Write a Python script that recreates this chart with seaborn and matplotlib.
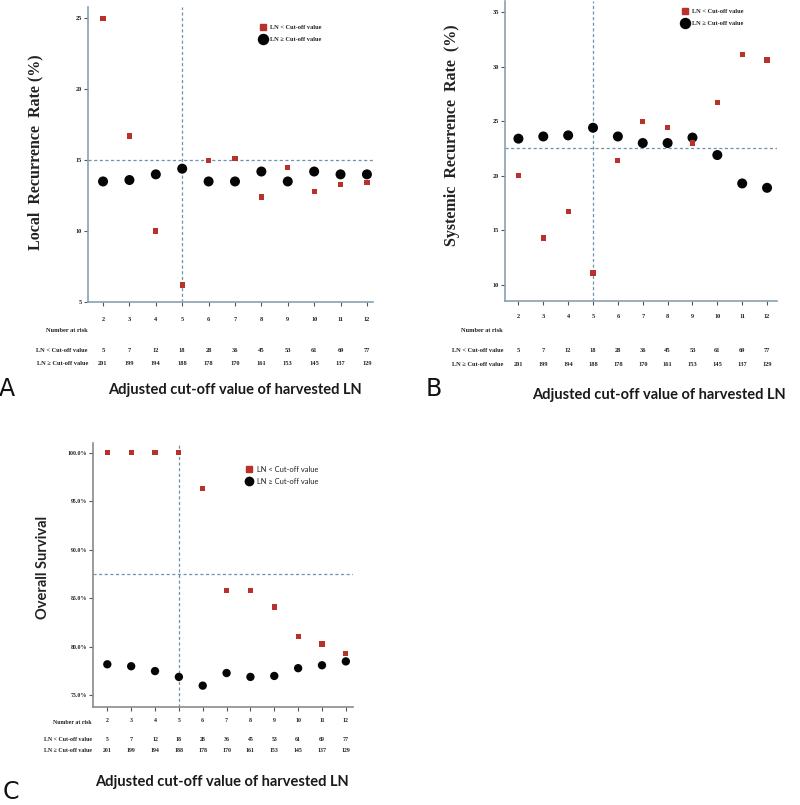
import numpy as np
import pandas as pd
import seaborn as sns
import matplotlib
matplotlib.use("Agg")
import matplotlib.pyplot as plt
from matplotlib import transforms
from matplotlib.lines import Line2D
from matplotlib.ticker import FuncFormatter

# ---------------- data ----------------
cutoffs = [2, 3, 4, 5, 6, 7, 8, 9, 10, 11, 12]
n_below = [5, 7, 12, 18, 28, 36, 45, 53, 61, 69, 77]
n_above = [201, 199, 194, 188, 178, 170, 161, 153, 145, 137, 129]

local_below = [25.0, 16.7, 10.0, 6.2, 15.0, 15.1, 12.4, 14.5, 12.8, 13.3, 13.4]
local_above = [13.5, 13.6, 14.0, 14.4, 13.5, 13.5, 14.2, 13.5, 14.2, 14.0, 14.0]
sys_below = [20.0, 14.3, 16.7, 11.1, 21.4, 25.0, 24.4, 23.0, 26.7, 31.1, 30.6]
sys_above = [23.4, 23.6, 23.7, 24.4, 23.6, 23.0, 23.0, 23.5, 21.9, 19.3, 18.9]
os_below = [100.0, 100.0, 100.0, 100.0, 96.3, 85.8, 85.8, 84.1, 81.1, 80.3, 79.3]
os_above = [78.2, 78.0, 77.5, 76.9, 76.0, 77.3, 76.9, 77.0, 77.8, 78.1, 78.5]

local_ref = 15.0
sys_ref = 22.5
os_ref = 87.5
best_cutoff = 5

label_below = "LN < Cut-off value"
label_above = "LN \u2265 Cut-off value"
xtitle = "Adjusted cut-off value of harvested LN"

# ---------------- style ----------------
sns.set_theme(style="white")
plt.rcParams["font.family"] = ["DejaVu Sans"]

W, H = 800, 805
fig = plt.figure(figsize=(W / 100, H / 100), dpi=100)

RED = "#b8312a"
BLACK = "#050505"
DASH = "#6f93aa"
SERIF = ["Liberation Serif", "DejaVu Serif"]
SANS = ["Lato", "DejaVu Sans"]


def fx(px):
    return px / W


def fy(py):
    return 1 - py / H


def rect(x0, y0, x1, y1):
    return [fx(x0), fy(y1), (x1 - x0) / W, (y1 - y0) / H]


def panel(box, below, above, ref, xlim, ylim, yticks, yfmt, spine_col,
          s_red, s_black, tickfont, tickfs, legend_anchor, legend_font, legend_fs,
          legend_weight, legend_spacing,
          ylabel, ylabel_xy, ylabel_font, ylabel_fs,
          rows_y, row_label_x, row_font, row_fs, title_xy, letter, letter_xy,
          tickpad):
    ax = fig.add_axes(rect(*box))
    df = pd.DataFrame({"cutoff": cutoffs + cutoffs,
                       "rate": below + above,
                       "group": [label_below] * len(cutoffs) + [label_above] * len(cutoffs)})
    sns.scatterplot(data=df[df.group == label_below], x="cutoff", y="rate", ax=ax,
                    marker="s", color=RED, s=s_red, edgecolor="none", zorder=4,
                    legend=False)
    sns.scatterplot(data=df[df.group == label_above], x="cutoff", y="rate", ax=ax,
                    marker="o", color=BLACK, s=s_black, edgecolor="none", zorder=3,
                    legend=False)
    ax.axhline(ref, color=DASH, lw=0.9, ls=(0, (2.5, 2)), zorder=1)
    ax.axvline(best_cutoff, color=DASH, lw=0.9, ls=(0, (2.5, 2)), zorder=1)
    ax.set_xlim(*xlim)
    ax.set_ylim(*ylim)
    ax.set_xticks(cutoffs)
    ax.set_yticks(yticks)
    ax.yaxis.set_major_formatter(FuncFormatter(yfmt))
    for side in ["top", "right"]:
        ax.spines[side].set_visible(False)
    for side in ["left", "bottom"]:
        ax.spines[side].set_color(spine_col)
        ax.spines[side].set_linewidth(1.2)
    ax.tick_params(axis="both", which="major", length=3, width=0.8, color="#555555",
                   direction="out", bottom=True, left=True)
    ax.tick_params(axis="x", pad=tickpad)
    ax.tick_params(axis="y", pad=1.5)
    for lab in ax.get_xticklabels() + ax.get_yticklabels():
        lab.set_fontfamily(tickfont)
        lab.set_fontsize(tickfs)
        lab.set_fontweight("bold")
        lab.set_color("#222222")
    ax.set_xlabel("")
    ax.set_ylabel("")

    handles = [Line2D([], [], ls="none", marker="s", color=RED, markersize=np.sqrt(s_red)),
               Line2D([], [], ls="none", marker="o", color=BLACK, markersize=np.sqrt(s_black))]
    leg = ax.legend(handles, [label_below, label_above], loc="upper left",
                    bbox_to_anchor=(fx(legend_anchor[0]), fy(legend_anchor[1])),
                    bbox_transform=fig.transFigure, frameon=False,
                    prop={"family": legend_font, "size": legend_fs, "weight": legend_weight},
                    handlelength=1.0, handletextpad=0.6, labelspacing=legend_spacing,
                    borderpad=0, borderaxespad=0)
    for t in leg.get_texts():
        t.set_color("#222222")

    fig.text(fx(ylabel_xy[0]), fy(ylabel_xy[1]), ylabel, rotation=90,
             ha="center", va="center", family=ylabel_font, fontsize=ylabel_fs,
             fontweight="bold", color="#222222")

    # number at risk table
    trans = transforms.blended_transform_factory(ax.transData, fig.transFigure)
    y_title, y_below, y_above = rows_y
    fig.text(fx(row_label_x), fy(y_title), "Number at risk", ha="right", va="center",
             family=row_font, fontsize=row_fs, fontweight="bold", color="#222222")
    fig.text(fx(row_label_x), fy(y_below), label_below, ha="right", va="center",
             family=row_font, fontsize=row_fs, fontweight="bold", color="#222222")
    fig.text(fx(row_label_x), fy(y_above), label_above, ha="right", va="center",
             family=row_font, fontsize=row_fs, fontweight="bold", color="#222222")
    for c, nb, na in zip(cutoffs, n_below, n_above):
        ax.text(c, fy(y_below), str(nb), transform=trans, ha="center", va="center",
                family=row_font, fontsize=row_fs, fontweight="bold", color="#222222")
        ax.text(c, fy(y_above), str(na), transform=trans, ha="center", va="center",
                family=row_font, fontsize=row_fs, fontweight="bold", color="#222222")

    fig.text(fx(title_xy[0]), fy(title_xy[1]), xtitle, ha="center", va="center",
             family=SANS, fontsize=10.5, fontweight="bold", color="#1a1a1a")
    fig.text(fx(letter_xy[0]), fy(letter_xy[1]), letter, ha="left", va="center",
             family=["DejaVu Sans"], fontsize=17, color="#111111")
    return ax


# Panel A
panel(box=(88, 7, 373, 302), below=local_below, above=local_above, ref=local_ref,
      xlim=(1.43, 12.23), ylim=(5, 25.8), yticks=[5, 10, 15, 20, 25],
      yfmt=lambda v, p: f"{v:.0f}", spine_col="#8aa1b2",
      s_red=14, s_black=52, tickfont=SERIF, tickfs=4.5,
      legend_anchor=(260, 25), legend_font=SERIF, legend_fs=4.6,
      legend_weight="bold", legend_spacing=1.0,
      ylabel="Local  Recurrence  Rate (%)", ylabel_xy=(35, 152), ylabel_font=SERIF,
      ylabel_fs=11.5,
      rows_y=(330, 350, 363), row_label_x=88, row_font=SERIF, row_fs=4.6,
      title_xy=(235, 390), letter="A", letter_xy=(-1, 389), tickpad=8)

# Panel B
panel(box=(505, 1, 777, 301), below=sys_below, above=sys_above, ref=sys_ref,
      xlim=(1.46, 12.4), ylim=(8.54, 36.0), yticks=[10, 15, 20, 25, 30, 35],
      yfmt=lambda v, p: f"{v:.0f}", spine_col="#8aa1b2",
      s_red=14, s_black=52, tickfont=SERIF, tickfs=4.5,
      legend_anchor=(682, 9), legend_font=SERIF, legend_fs=4.6,
      legend_weight="bold", legend_spacing=1.0,
      ylabel="Systemic  Recurrence  Rate  (%)", ylabel_xy=(452, 135), ylabel_font=SERIF,
      ylabel_fs=11.5,
      rows_y=(330, 351, 364), row_label_x=503, row_font=SERIF, row_fs=4.6,
      title_xy=(659, 395), letter="B", letter_xy=(426, 389), tickpad=6)

# Panel C
panel(box=(93, 443, 353, 707), below=os_below, above=os_above, ref=os_ref,
      xlim=(1.4, 12.3), ylim=(73.8, 101.0), yticks=[75, 80, 85, 90, 95, 100],
      yfmt=lambda v, p: f"{v:.1f}%", spine_col="#8a8a8a",
      s_red=14, s_black=36, tickfont=SERIF, tickfs=4.2,
      legend_anchor=(245, 466), legend_font=SANS, legend_fs=5.4,
      legend_weight="normal", legend_spacing=0.6,
      ylabel="Overall Survival", ylabel_xy=(43, 567), ylabel_font=SANS,
      ylabel_fs=10.5,
      rows_y=(722, 739, 750), row_label_x=92, row_font=SERIF, row_fs=4.2,
      title_xy=(222, 782), letter="C", letter_xy=(3, 792), tickpad=5)

fig.savefig("out.png", dpi=100, facecolor="white")
